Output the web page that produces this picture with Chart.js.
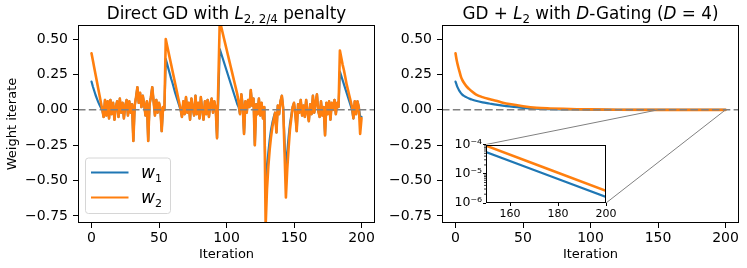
<!DOCTYPE html>
<html>
<head>
<meta charset="utf-8">
<title>Direct GD vs D-Gating</title>
<script src="https://cdn.jsdelivr.net/npm/chart.js@4.4.1/dist/chart.umd.min.js"></script>
<style>
  html, body { margin: 0; padding: 0; background: #fff; }
  #page { position: relative; width: 747px; height: 268px; overflow: hidden; background: #fff; }
  .panel { position: absolute; }
  #leftPanel { left: 0; top: 0; width: 380px; height: 268px; }
  #rightPanel { left: 375px; top: 0; width: 372px; height: 268px; }
  #insetPanel { left: 440px; top: 136px; width: 179px; height: 87px; }
</style>
</head>
<body>
<div id="page">
  <div class="panel" id="leftPanel"><canvas id="leftChart"></canvas></div>
  <div class="panel" id="rightPanel"><canvas id="rightChart"></canvas></div>
  <div class="panel" id="insetPanel"><canvas id="insetChart"></canvas></div>
</div>
<script>
const FONT = "'DejaVu Sans', sans-serif";
const BLUE = '#1f77b4';
const ORANGE = '#ff7f0e';

// Direct GD with L_{2,2/4} penalty, one value per iteration (0..200)
const w1Direct = [
  0.20, 0.165, 0.135, 0.105, 0.08, 0.055, 0.035, 0.015, 0.00, -0.05,
  0.07, -0.04, 0.06, -0.06, 0.07, -0.03, 0.05, -0.07, 0.02, 0.06,
  -0.05, 0.08, -0.02, 0.05, -0.06, 0.03, 0.07, -0.04, 0.06, -0.02,
  0.04, -0.22, 0.03, 0.09, 0.16, 0.05, 0.12, 0.02, 0.10, 0.04,
  -0.04, 0.06, -0.22, 0.04, 0.09, 0.16, 0.06, -0.04, 0.07, -0.02,
  0.05, 0.01, -0.15, 0.02, 0.00, 0.36, 0.325, 0.29, 0.255, 0.22,
  0.19, 0.155, 0.12, 0.09, 0.06, 0.03, 0.00, -0.05, 0.06, -0.03,
  0.09, -0.02, 0.05, -0.07, 0.08, 0.01, -0.04, 0.10, -0.03, 0.05,
  -0.06, 0.09, 0.00, -0.07, 0.06, -0.03, 0.07, -0.05, 0.04, 0.08,
  -0.02, 0.06, 0.01, -0.20, 0.11, 0.43, 0.40, 0.37, 0.34, 0.31,
  0.28, 0.25, 0.22, 0.19, 0.16, 0.13, 0.10, 0.07, 0.04, 0.02,
  -0.03, 0.11, 0.03, -0.17, 0.06, -0.02, 0.07, 0.02, 0.14, 0.03,
  0.08, -0.25, 0.04, -0.03, 0.08, -0.04, 0.05, -0.06, 0.02, -0.56,
  -0.42, -0.30, -0.21, -0.14, -0.09, -0.05, -0.02, -0.16, 0.03, -0.03,
  0.06, 0.10, 0.01, -0.22, -0.45, -0.30, -0.19, -0.10, -0.04, 0.02,
  0.05, -0.03, -0.15, 0.04, -0.02, 0.07, -0.04, 0.03, -0.05, 0.07,
  -0.02, -0.08, 0.04, -0.03, 0.10, -0.02, 0.05, 0.11, -0.01, -0.05,
  0.06, -0.04, 0.02, -0.18, 0.05, -0.03, 0.06, -0.07, 0.05, 0.00,
  0.07, -0.03, 0.05, 0.02, 0.27, 0.24, 0.21, 0.18, 0.15, 0.12,
  0.09, 0.06, 0.03, 0.00, -0.06, 0.06, -0.03, 0.06, 0.02, -0.05,
  -0.05
];
const w2Direct = [
  0.40, 0.35, 0.30, 0.25, 0.20, 0.15, 0.10, 0.05, 0.00, -0.05,
  0.07, -0.04, 0.06, -0.06, 0.07, -0.03, 0.05, -0.07, 0.02, 0.06,
  -0.05, 0.08, -0.02, 0.05, -0.06, 0.03, 0.07, -0.04, 0.06, -0.02,
  0.04, -0.22, 0.03, 0.09, 0.16, 0.05, 0.12, 0.02, 0.10, 0.04,
  -0.04, 0.06, -0.22, 0.04, 0.09, 0.16, 0.06, -0.04, 0.07, -0.02,
  0.05, 0.01, -0.15, 0.02, 0.00, 0.50, 0.455, 0.41, 0.365, 0.32,
  0.275, 0.23, 0.185, 0.14, 0.095, 0.05, 0.005, -0.05, 0.06, -0.03,
  0.09, -0.02, 0.05, -0.07, 0.08, 0.01, -0.04, 0.10, -0.03, 0.05,
  -0.06, 0.09, 0.00, -0.07, 0.06, -0.03, 0.07, -0.05, 0.04, 0.08,
  -0.02, 0.06, 0.01, -0.20, 0.21, 0.63, 0.59, 0.55, 0.51, 0.47,
  0.43, 0.39, 0.35, 0.31, 0.27, 0.23, 0.19, 0.15, 0.11, 0.05,
  -0.03, 0.11, 0.03, -0.17, 0.06, -0.02, 0.07, 0.02, 0.14, 0.03,
  0.08, -0.25, 0.04, -0.03, 0.08, -0.04, 0.05, -0.06, 0.02, -0.82,
  -0.56, -0.40, -0.28, -0.19, -0.12, -0.07, -0.02, -0.16, 0.03, -0.03,
  0.06, 0.10, 0.01, -0.30, -0.62, -0.42, -0.27, -0.14, -0.06, 0.02,
  0.05, -0.03, -0.15, 0.04, -0.02, 0.07, -0.04, 0.03, -0.05, 0.07,
  -0.02, -0.08, 0.04, -0.03, 0.10, -0.02, 0.05, 0.11, -0.01, -0.05,
  0.06, -0.04, 0.02, -0.18, 0.05, -0.03, 0.06, -0.07, 0.05, 0.00,
  0.07, -0.03, 0.05, 0.02, 0.42, 0.37, 0.32, 0.28, 0.23, 0.18,
  0.14, 0.10, 0.06, 0.02, -0.06, 0.06, -0.03, 0.06, 0.02, -0.17,
  -0.06
];

// GD + L2 with D-Gating (D = 4), sampled iterations
const gateIters = [0, 1, 2, 3, 4, 5, 6, 8, 10, 12, 15, 20, 25, 30, 35, 40, 50, 60, 70, 80, 90, 100, 120, 150, 175, 200];
const w1Gate = [0.20, 0.172, 0.150, 0.132, 0.118, 0.108, 0.100, 0.090, 0.080, 0.073, 0.064, 0.053, 0.045, 0.037, 0.030, 0.024,
  0.014, 0.008, 0.0052, 0.0036, 0.0025, 0.0018, 0.0007, 0.000055, 0.0000094, 0.0000016];
const w2Gate = [0.40, 0.345, 0.305, 0.27, 0.235, 0.212, 0.195, 0.168, 0.148, 0.131, 0.110, 0.090, 0.076, 0.064, 0.051, 0.041,
  0.026, 0.015, 0.010, 0.0068, 0.0046, 0.0031, 0.0012, 0.000091, 0.0000154, 0.0000026];

const xTicks = [0, 50, 100, 150, 200];
const yTicks = [-0.75, -0.5, -0.25, 0, 0.25, 0.5];
const insetStart = 150;
const insetXTicks = [160, 180, 200];
const insetYTicks = [1e-6, 1e-5, 1e-4];

Chart.defaults.font.family = FONT;
Chart.defaults.color = '#000';
Chart.defaults.animation = false;

function fixedTicks(list) {
  return scale => { scale.ticks = list.map(v => ({ value: v })); };
}

function fmtTick(v) {
  return Number(v).toFixed(2).replace('-', '\u2212');
}

const SUP = { '-': '\u207B', '0': '\u2070', '1': '\u00B9', '2': '\u00B2', '3': '\u00B3',
  '4': '\u2074', '5': '\u2075', '6': '\u2076', '7': '\u2077', '8': '\u2078', '9': '\u2079' };
function powLabel(v) {
  const e = String(Math.round(Math.log10(v)));
  return '10' + e.split('').map(c => SUP[c]).join('');
}

// box around the axes + dashed zero line
const axesDecor = {
  id: 'axesDecor',
  afterDatasetsDraw(chart, args, opts) {
    const { ctx, chartArea: a } = chart;
    ctx.save();
    if (opts.zeroLine) {
      const y = chart.scales.y.getPixelForValue(0);
      ctx.strokeStyle = '#808080';
      ctx.lineWidth = 1.5;
      ctx.setLineDash([7.5, 3.3]);
      ctx.beginPath();
      ctx.moveTo(a.left, y);
      ctx.lineTo(a.right, y);
      ctx.stroke();
      ctx.setLineDash([]);
    }
    ctx.strokeStyle = '#000';
    ctx.lineWidth = 1;
    const l = Math.round(a.left) + 0.5, t = Math.round(a.top) + 0.5;
    const r = Math.round(a.right) - 0.5, b = Math.round(a.bottom) - 0.5;
    ctx.strokeRect(l, t, r - l, b - t);
    ctx.restore();
  }
};

// title with italic symbols and subscripts
const mathTitle = {
  id: 'mathTitle',
  afterDraw(chart, args, opts) {
    if (!opts.runs) return;
    const { ctx, chartArea: a } = chart;
    const fonts = { n: `16.8px ${FONT}`, i: `italic 16.8px ${FONT}`, sub: `11.8px ${FONT}` };
    ctx.save();
    let total = 0;
    const widths = opts.runs.map(([t, s]) => {
      ctx.font = fonts[s];
      const w = ctx.measureText(t).width;
      total += w;
      return w;
    });
    let x = (a.left + a.right) / 2 - total / 2;
    ctx.fillStyle = '#000';
    ctx.textAlign = 'left';
    ctx.textBaseline = 'alphabetic';
    opts.runs.forEach(([t, s], k) => {
      ctx.font = fonts[s];
      ctx.fillText(t, x, a.top - 6 + (s === 'sub' ? 4 : 0));
      x += widths[k];
    });
    ctx.restore();
  }
};

// legend box in the lower left corner
const cornerLegend = {
  id: 'cornerLegend',
  afterDraw(chart, args, opts) {
    if (!opts.show) return;
    const { ctx, chartArea: a } = chart;
    const x0 = Math.round(a.left) + 7.5, y1 = Math.round(a.bottom) - 9.5;
    const y0 = y1 - 55.5;
    ctx.save();
    ctx.beginPath();
    ctx.roundRect(x0, y0, 85, 55.5, 3);
    ctx.fillStyle = 'rgba(255,255,255,0.8)';
    ctx.fill();
    ctx.strokeStyle = '#d6d6d6';
    ctx.lineWidth = 1;
    ctx.stroke();
    chart.data.datasets.forEach((ds, k) => {
      const y = y0 + 14.5 + k * 25;
      ctx.strokeStyle = ds.borderColor;
      ctx.lineWidth = 2;
      ctx.beginPath();
      ctx.moveTo(x0 + 5.5, y);
      ctx.lineTo(x0 + 43, y);
      ctx.stroke();
      ctx.fillStyle = '#000';
      ctx.font = `italic 17px ${FONT}`;
      ctx.fillText(ds.label[0], x0 + 55.5, y + 5.5);
      const ww = ctx.measureText(ds.label[0]).width;
      ctx.font = `11px ${FONT}`;
      ctx.fillText(ds.label.slice(1), x0 + 55.5 + ww, y + 9.3);
    });
    ctx.restore();
  }
};

function xAxis(min, max, ticks, height, fontSize, label) {
  return {
    type: 'linear', min: min, max: max,
    afterBuildTicks: fixedTicks(ticks),
    afterFit: s => { s.height = height; },
    border: { display: false },
    grid: { drawOnChartArea: false, color: '#000', tickLength: fontSize > 12 ? 5 : 3 },
    ticks: { font: { size: fontSize }, color: '#000', padding: 2, maxRotation: 0, autoSkip: false },
    title: { display: !!label, text: label || '', font: { size: 13 }, color: '#000', padding: { top: 0, bottom: 6 } }
  };
}

function yAxis(width, label) {
  return {
    min: -0.8, max: 0.6,
    afterBuildTicks: fixedTicks(yTicks),
    afterFit: s => { s.width = width; },
    border: { display: false },
    grid: { drawOnChartArea: false, color: '#000', tickLength: 5 },
    ticks: { font: { size: 14 }, color: '#000', padding: 5, callback: fmtTick },
    title: { display: !!label, text: label || '', font: { size: 13 }, color: '#000', padding: { top: 5, bottom: 0 } }
  };
}

// w1 slightly thinner so that, where both weights coincide, w2 covers it cleanly
function lineSet(label, xs, ys, color, order, smooth) {
  return {
    label: label,
    data: ys.map((v, i) => ({ x: xs ? xs[i] : i, y: v })),
    borderColor: color,
    backgroundColor: color,
    borderWidth: order === 0 ? 2.6 : 2.2,
    borderJoinStyle: 'round',
    borderCapStyle: 'round',
    fill: false,
    pointRadius: 0,
    tension: 0,
    cubicInterpolationMode: smooth ? 'monotone' : 'default',
    clip: 0,
    order: order
  };
}

const noChrome = { legend: { display: false }, tooltip: { enabled: false }, title: { display: false } };

// left panel
new Chart(document.getElementById('leftChart'), {
  type: 'line',
  data: {
    datasets: [
      lineSet('w1', null, w1Direct, BLUE, 1, false),
      lineSet('w2', null, w2Direct, ORANGE, 0, false)
    ]
  },
  options: {
    responsive: true, maintainAspectRatio: false, animation: false,
    layout: { padding: { top: 25, right: 5, bottom: 0, left: 0 } },
    plugins: Object.assign({}, noChrome, {
      axesDecor: { zeroLine: true },
      cornerLegend: { show: true },
      mathTitle: { runs: [['Direct GD with ', 'n'], ['L', 'i'], ['2, 2/4', 'sub'], [' penalty', 'n']] }
    }),
    scales: {
      x: xAxis(-10, 210, xTicks, 45, 14, 'Iteration'),
      y: yAxis(78, 'Weight iterate')
    }
  },
  plugins: [axesDecor, cornerLegend, mathTitle]
});

// inset (log scale, last iterations)
const insetRows = gateIters.map((t, i) => i).filter(i => gateIters[i] >= insetStart);
const insetMinor = {
  id: 'insetMinor',
  beforeDatasetsDraw(chart) {
    const { ctx, chartArea: a } = chart;
    ctx.save();
    ctx.fillStyle = '#fff';
    ctx.fillRect(a.left, a.top, a.right - a.left, a.bottom - a.top);
    ctx.restore();
  },
  afterDraw(chart) {
    const { ctx, chartArea: a } = chart;
    const ys = chart.scales.y;
    ctx.save();
    ctx.strokeStyle = '#000';
    ctx.lineWidth = 0.8;
    for (let d = 0; d < insetYTicks.length - 1; d++) {
      for (let m = 2; m <= 9; m++) {
        const y = ys.getPixelForValue(insetYTicks[d] * m);
        ctx.beginPath();
        ctx.moveTo(a.left - 2, y);
        ctx.lineTo(a.left, y);
        ctx.stroke();
      }
    }
    ctx.restore();
  }
};

const insetChart = new Chart(document.getElementById('insetChart'), {
  type: 'line',
  data: {
    datasets: [
      lineSet('w1', insetRows.map(i => gateIters[i]), insetRows.map(i => w1Gate[i]), BLUE, 1, false),
      lineSet('w2', insetRows.map(i => gateIters[i]), insetRows.map(i => w2Gate[i]), ORANGE, 0, false)
    ]
  },
  options: {
    responsive: true, maintainAspectRatio: false, animation: false,
    layout: { padding: { top: 8, right: 13, bottom: 0, left: 0 } },
    plugins: Object.assign({}, noChrome, { axesDecor: { zeroLine: false } }),
    scales: {
      x: xAxis(insetStart, gateIters[gateIters.length - 1], insetXTicks, 20, 11, null),
      y: {
        type: 'logarithmic', min: insetYTicks[0], max: insetYTicks[insetYTicks.length - 1],
        afterBuildTicks: fixedTicks(insetYTicks),
        afterFit: s => { s.width = 46; },
        border: { display: false },
        grid: { drawOnChartArea: false, color: '#000', tickLength: 3 },
        ticks: { font: { size: 12.5 }, color: '#000', padding: 1, callback: v => powLabel(v) }
      }
    }
  },
  plugins: [insetMinor, axesDecor]
});

// connector lines from the zoomed span to the inset corners
const insetLinks = {
  id: 'insetLinks',
  afterDatasetsDraw(chart) {
    const { ctx } = chart;
    const own = document.getElementById('rightPanel');
    const ins = document.getElementById('insetPanel');
    const dx = ins.offsetLeft - own.offsetLeft, dy = ins.offsetTop - own.offsetTop;
    const ia = insetChart.chartArea;
    const xs = chart.scales.x, ys = chart.scales.y;
    const y0 = ys.getPixelForValue(0);
    ctx.save();
    ctx.strokeStyle = '#808080';
    ctx.lineWidth = 1;
    ctx.beginPath();
    ctx.moveTo(xs.getPixelForValue(insetStart), y0);
    ctx.lineTo(ia.left + dx, ia.top + dy);
    ctx.moveTo(xs.getPixelForValue(gateIters[gateIters.length - 1]), y0);
    ctx.lineTo(ia.right + dx, ia.bottom + dy);
    ctx.stroke();
    ctx.restore();
  }
};

// right panel
new Chart(document.getElementById('rightChart'), {
  type: 'line',
  data: {
    datasets: [
      lineSet('w1', gateIters, w1Gate, BLUE, 1, true),
      lineSet('w2', gateIters, w2Gate, ORANGE, 0, true)
    ]
  },
  options: {
    responsive: true, maintainAspectRatio: false, animation: false,
    layout: { padding: { top: 25, right: 8, bottom: 0, left: 0 } },
    plugins: Object.assign({}, noChrome, {
      axesDecor: { zeroLine: true },
      mathTitle: { runs: [['GD + ', 'n'], ['L', 'i'], ['2', 'sub'], [' with ', 'n'], ['D', 'i'],
        ['-Gating (', 'n'], ['D', 'i'], [' = 4)', 'n']] }
    }),
    scales: {
      x: xAxis(-10, 210, xTicks, 45, 14, 'Iteration'),
      y: yAxis(67, null)
    }
  },
  plugins: [insetLinks, axesDecor, mathTitle]
});
</script>
</body>
</html>
